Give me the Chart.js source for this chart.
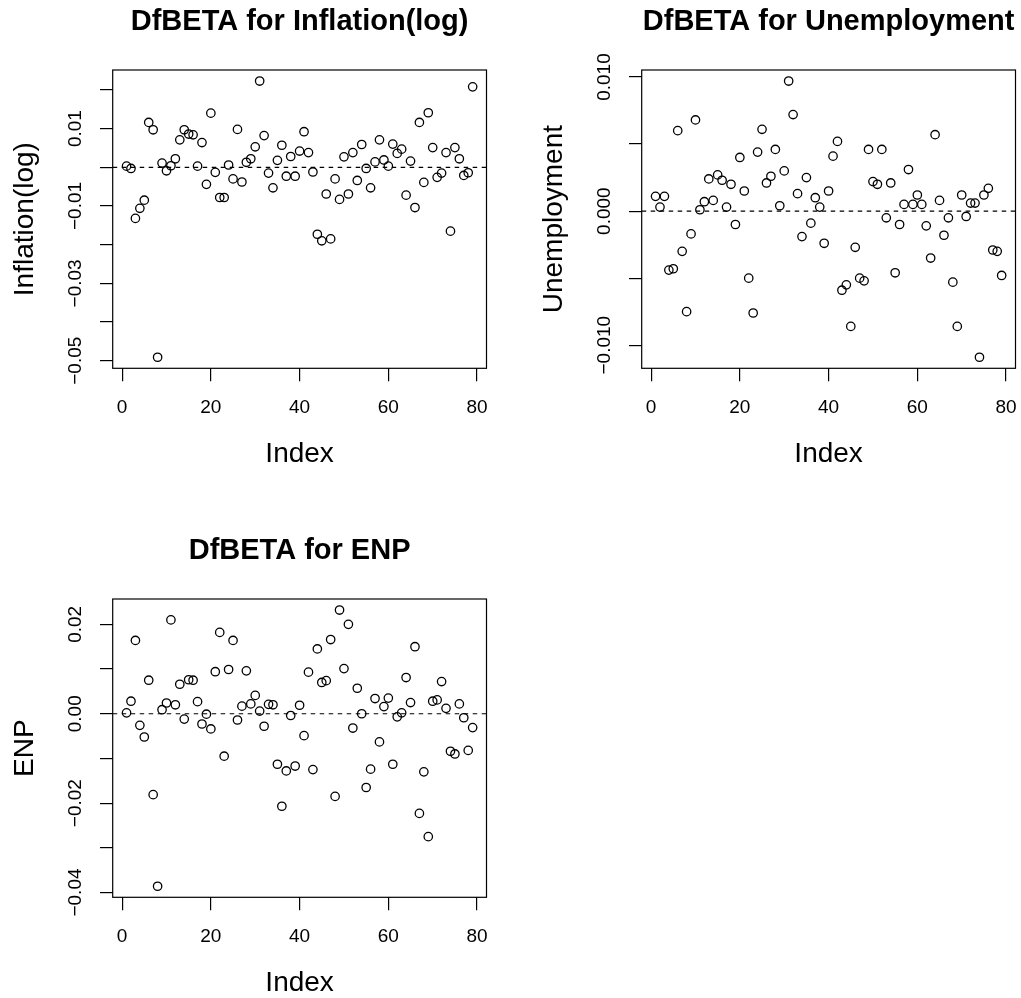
<!DOCTYPE html>
<html lang="en">
<head>
<meta charset="UTF-8">
<title>DfBETA plots</title>
<script src="https://cdn.jsdelivr.net/npm/chart.js"></script>
<style>
  body { margin: 0; background: #fff; overflow: hidden; }
  canvas { position: absolute; }
</style>
</head>
<body>
<canvas id="chartInflation" width="492" height="468" style="left:0;top:0"></canvas>
<canvas id="chartUnemployment" width="492" height="468" style="left:529px;top:0"></canvas>
<canvas id="chartEnp" width="492" height="468" style="left:0;top:529px"></canvas>

<script>
// x axis (observation index)
const indexTicks = [0, 20, 40, 60, 80];

// DfBETA values, observation 1..79
const dfbInflation = [
  0.0003, -0.0003, -0.0132, -0.0106, -0.0085, 0.0116, 0.0097, -0.0491, 0.0011, -0.0009,
  0.0004, 0.0022, 0.0071, 0.0097, 0.0086, 0.0084, 0.0003, 0.0064, -0.0044, 0.0140,
  -0.0013, -0.0078, -0.0078, 0.0006, -0.0030, 0.0098, -0.0038, 0.0013, 0.0022, 0.0053,
  0.0223, 0.0082, -0.0015, -0.0053, 0.0018, 0.0057, -0.0023, 0.0028, -0.0023, 0.0042,
  0.0092, 0.0038, -0.0012, -0.0173, -0.0190, -0.0069, -0.0185, -0.0030, -0.0083, 0.0027,
  -0.0069, 0.0038, -0.0034, 0.0059, -0.0003, -0.0053, 0.0014, 0.0071, 0.0019, 0.0003,
  0.0060, 0.0036, 0.0047, -0.0072, 0.0016, -0.0104, 0.0116, -0.0039, 0.0141, 0.0051,
  -0.0026, -0.0015, 0.0038, -0.0165, 0.0051, 0.0022, -0.0021, -0.0014, 0.0208
];
const inflationTicks = [-0.05, -0.04, -0.03, -0.02, -0.01, 0, 0.01, 0.02];
const inflationTickLabels = ['\u22120.05', '', '\u22120.03', '', '\u22120.01', '', '0.01', ''];

const dfbUnemployment = [
  0.0011, 0.0003, 0.0011, -0.0044, -0.0043, 0.0060, -0.0030, -0.0075, -0.0017, 0.0068,
  0.0001, 0.0007, 0.0024, 0.0008, 0.0027, 0.0023, 0.0003, 0.0020, -0.0010, 0.0040,
  0.0015, -0.0050, -0.0076, 0.0044, 0.0061, 0.0021, 0.0026, 0.0046, 0.0004, 0.0030,
  0.0097, 0.0072, 0.0013, -0.0019, 0.0025, -0.0009, 0.0010, 0.0003, -0.0024, 0.0015,
  0.0041, 0.0052, -0.0059, -0.0055, -0.0086, -0.0027, -0.0050, -0.0052, 0.0046, 0.0022,
  0.0020, 0.0046, -0.0005, 0.0021, -0.0046, -0.0010, 0.0005, 0.0031, 0.0005, 0.0012,
  0.0005, -0.0011, -0.0035, 0.0057, 0.0008, -0.0018, -0.0005, -0.0053, -0.0086, 0.0012,
  -0.0004, 0.0006, 0.0006, -0.0109, 0.0012, 0.0017, -0.0029, -0.0030, -0.0048
];
const unemploymentTicks = [-0.010, -0.005, 0, 0.005, 0.010];
const unemploymentTickLabels = ['\u22120.010', '', '0.000', '', '0.010'];

const dfbEnp = [
  0.0002, 0.0028, 0.0164, -0.0026, -0.0052, 0.0075, -0.0181, -0.0386, 0.0009, 0.0024,
  0.0210, 0.0020, 0.0066, -0.0012, 0.0076, 0.0075, 0.0027, -0.0023, -0.0001, -0.0034,
  0.0094, 0.0182, -0.0095, 0.0099, 0.0164, -0.0014, 0.0017, 0.0096, 0.0022, 0.0041,
  0.0006, -0.0028, 0.0021, 0.0020, -0.0113, -0.0207, -0.0128, -0.0004, -0.0117, 0.0019,
  -0.0049, 0.0093, -0.0125, 0.0145, 0.0070, 0.0074, 0.0166, -0.0185, 0.0232, 0.0101,
  0.0200, -0.0032, 0.0057, 0.0000, -0.0165, -0.0124, 0.0034, -0.0063, 0.0016, 0.0035,
  -0.0113, -0.0007, 0.0002, 0.0081, 0.0025, 0.0150, -0.0223, -0.0130, -0.0275, 0.0028,
  0.0031, 0.0072, 0.0012, -0.0084, -0.0090, 0.0022, -0.0009, -0.0082, -0.0031
];
const enpTicks = [-0.04, -0.03, -0.02, -0.01, 0, 0.01, 0.02];
const enpTickLabels = ['\u22120.04', '', '\u22120.02', '', '0.00', '', '0.02'];

Chart.defaults.font.family = '"Liberation Sans", Arial, Helvetica, sans-serif';
Chart.defaults.color = '#000';

// R style: extend the data range by 4% on each side
function padRange(lo, hi) {
    const d = (hi - lo) * 0.04;
    return [lo - d, hi + d];
}

// box around the plot region
const frame = {
    id: 'frame',
    afterDraw(chart) {
        const { ctx, chartArea: a } = chart;
        ctx.save();
        ctx.strokeStyle = '#000';
        ctx.lineWidth = 1.2;
        ctx.strokeRect(a.left, a.top, a.right - a.left, a.bottom - a.top);
        ctx.restore();
    }
};

const measureCtx = document.createElement('canvas').getContext('2d');
measureCtx.font = '19px "Liberation Sans", Arial, sans-serif';

function makePanel(id, title, yTitle, values, yTicks, yTickLabels) {
    const points = values.map((v, i) => ({ x: i + 1, y: v }));
    const xr = padRange(1, values.length);
    const yr = padRange(Math.min(...values), Math.max(...values));

    // rotated y labels are centred about 37px left of the plot
    const widest = Math.max(...yTickLabels.map(t => measureCtx.measureText(t).width));
    const yLabelPad = 37.2 - 12.7 - widest / 2;

    const noPad = s => { s.paddingLeft = 0; s.paddingRight = 0; s.paddingTop = 0; s.paddingBottom = 0; };

    return new Chart(document.getElementById(id), {
        type: 'scatter',
        data: {
            datasets: [{
                data: points,
                pointStyle: 'circle',
                pointRadius: 4.2,
                borderWidth: 1.3,
                borderColor: '#000',
                backgroundColor: 'rgba(0,0,0,0)'
            }, {
                data: [{ x: xr[0], y: 0 }, { x: xr[1], y: 0 }],
                showLine: true,
                pointRadius: 0,
                borderColor: '#000',
                borderWidth: 1.2,
                borderDash: [4.5, 4.5]
            }]
        },
        options: {
            responsive: false,
            animation: false,
            layout: { padding: { top: 0, left: 0, right: 5.5, bottom: 0 } },
            plugins: {
                legend: { display: false },
                tooltip: { enabled: false },
                title: {
                    display: true,
                    text: title,
                    color: '#000',
                    fullSize: false,
                    font: { size: 29, weight: 'bold', lineHeight: 1 },
                    padding: { top: 7, bottom: 34 }
                }
            },
            scales: {
                x: {
                    type: 'linear',
                    min: xr[0],
                    max: xr[1],
                    afterBuildTicks: s => { s.ticks = indexTicks.map(v => ({ value: v })); },
                    afterFit: s => { s.height = 99.7; noPad(s); },
                    grid: { drawOnChartArea: false, drawTicks: true, tickLength: 13, color: '#000', lineWidth: 1.2 },
                    border: { display: false },
                    ticks: { color: '#000', font: { size: 19 }, padding: 15, autoSkip: false, maxRotation: 0 },
                    title: { display: true, text: 'Index', color: '#000', font: { size: 28, lineHeight: 1 }, padding: 0 }
                },
                y: {
                    type: 'linear',
                    min: yr[0],
                    max: yr[1],
                    afterBuildTicks: s => { s.ticks = yTicks.map(v => ({ value: v })); },
                    afterFit: s => { s.width = 112.7; noPad(s); },
                    grid: { drawOnChartArea: false, drawTicks: true, tickLength: 12.7, color: '#000', lineWidth: 1.2 },
                    border: { display: false },
                    ticks: {
                        color: '#000',
                        font: { size: 19 },
                        autoSkip: false,
                        minRotation: 90,
                        maxRotation: 90,
                        crossAlign: 'center',
                        padding: yLabelPad,
                        callback: (value, i) => yTickLabels[i]
                    },
                    title: { display: true, text: yTitle, color: '#000', font: { size: 28, lineHeight: 1 }, padding: { top: 11, bottom: 0 } }
                }
            }
        },
        plugins: [frame]
    });
}

makePanel('chartInflation', 'DfBETA for Inflation(log)', 'Inflation(log)', dfbInflation, inflationTicks, inflationTickLabels);
makePanel('chartUnemployment', 'DfBETA for Unemployment', 'Unemployment', dfbUnemployment, unemploymentTicks, unemploymentTickLabels);
makePanel('chartEnp', 'DfBETA for ENP', 'ENP', dfbEnp, enpTicks, enpTickLabels);
</script>
</body>
</html>
